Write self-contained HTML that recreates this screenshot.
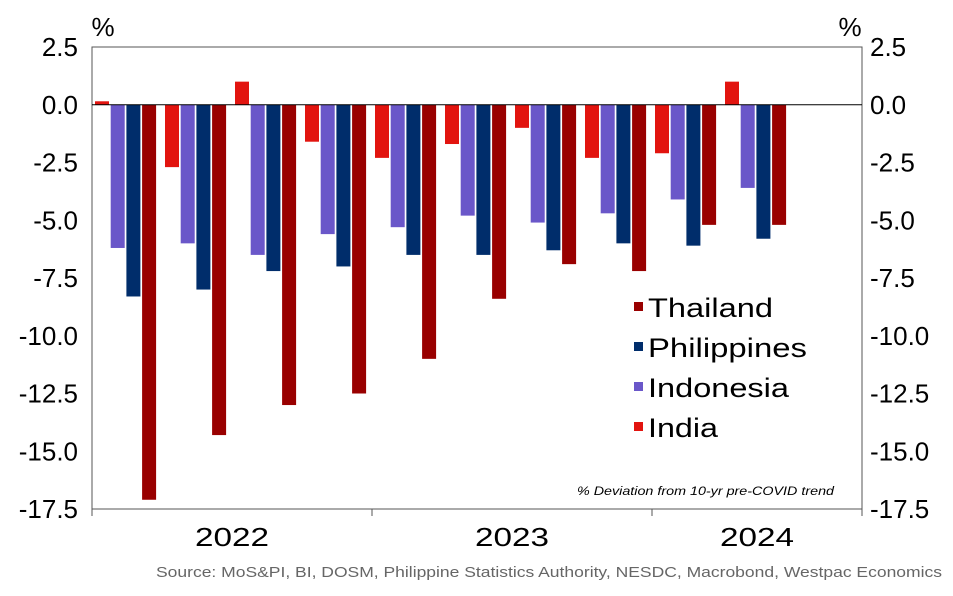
<!DOCTYPE html>
<html><head><meta charset="utf-8"><style>
body{margin:0;background:#fff;font-family:"Liberation Sans",sans-serif}
</style></head><body>
<svg width="953" height="591" xmlns="http://www.w3.org/2000/svg" id="chart">
</svg>
<script>
const quarters=["2022Q1","2022Q2","2022Q3","2022Q4","2023Q1","2023Q2","2023Q3","2023Q4","2024Q1","2024Q2"];
const india=[0.15,-2.7,1.0,-1.6,-2.3,-1.7,-1.0,-2.3,-2.1,1.0];
const indonesia=[-6.2,-6.0,-6.5,-5.6,-5.3,-4.8,-5.1,-4.7,-4.1,-3.6];
const philippines=[-8.3,-8.0,-7.2,-7.0,-6.5,-6.5,-6.3,-6.0,-6.1,-5.8];
const thailand=[-17.1,-14.3,-13.0,-12.5,-11.0,-8.4,-6.9,-7.2,-5.2,-5.2];
const yTicks=[2.5,0,-2.5,-5,-7.5,-10,-12.5,-15,-17.5];
const years=["2022","2023","2024"];
const yearSlots=[4,4,3];
const seriesNames=["Thailand","Philippines","Indonesia","India"];
const legendWidths=[125,159,141,70];

const svg=document.getElementById('chart');
const NS="http://www.w3.org/2000/svg";
const L=92,R=862,T=47,B=509,yMax=2.5,yMin=-17.5,nSlots=11;
const slotW=(R-L)/nSlots;
const y=v=>T+(yMax-v)/(yMax-yMin)*(B-T);
const xSlot=i=>L+i*slotW;
function el(tag,attrs,text){const e=document.createElementNS(NS,tag);for(const k in attrs)e.setAttribute(k,attrs[k]);if(text!==undefined)e.textContent=text;svg.appendChild(e);return e;}

let f=el('rect',{x:L,y:T,width:R-L,height:B-T,fill:'none',stroke:'#555','stroke-width':1});



yTicks.forEach(v=>{
  let t=el('text',{x:78,y:y(v)+9,'text-anchor':'end','font-size':26,fill:'#000'},v.toFixed(1));
  
  
  let t2=el('text',{x:870,y:y(v)+9,'text-anchor':'start','font-size':26,fill:'#000'},v.toFixed(1));
  
  
});
let p1=el('text',{x:103,y:36,'text-anchor':'middle','font-size':26},'%');


let p2=el('text',{x:850,y:36,'text-anchor':'middle','font-size':26},'%');



const series=[india,indonesia,philippines,thailand];
const colors=["#e2140f","#6a57c9","#002d6b","#990000"];
const names=["india","indonesia","philippines","thailand"];
const bw=14,off=3,step=15.7;
quarters.forEach((q,i)=>{
  series.forEach((s,j)=>{
    const v=s[i];const x0=xSlot(i)+off+j*step;
    const y1=Math.min(y(v),y(0)),h=Math.abs(y(v)-y(0));
    let b=el('rect',{x:x0,y:y1,width:bw,height:h,fill:colors[j]});
    
    
  });
});
let z=el('line',{x1:L,x2:R,y1:y(0),y2:y(0),stroke:'#000','stroke-width':1});



let s0=0;
years.forEach((yr,k)=>{
  const xa=xSlot(s0),xb=xSlot(s0+yearSlots[k]);
  let tk=el('line',{x1:xa,x2:xa,y1:B,y2:B+7,stroke:'#555'});
  
  
  let t=el('text',{x:(xa+xb)/2,y:546,'text-anchor':'middle','font-size':26,textLength:74,lengthAdjust:'spacingAndGlyphs'},yr);
  
  
  s0+=yearSlots[k];
});
let tkE=el('line',{x1:R,x2:R,y1:B,y2:B+7,stroke:'#555'});



const legColors=["#990000","#002d6b","#6a57c9","#e2140f"];
seriesNames.forEach((n,k)=>{
  const ly=308+k*40;
  let sq=el('rect',{x:634,y:ly-6,width:9,height:9,fill:legColors[k]});
  
  
  let t=el('text',{x:648,y:ly+9,'font-size':27,textLength:legendWidths[k],lengthAdjust:'spacingAndGlyphs'},n);
  
  
});

let an=el('text',{x:577,y:495,'font-size':11.5,'font-style':'italic',textLength:257,lengthAdjust:'spacingAndGlyphs'},'% Deviation from 10-yr pre-COVID trend');


let src=el('text',{x:156,y:577,'font-size':15,fill:'#666',textLength:786,lengthAdjust:'spacingAndGlyphs'},'Source: MoS&PI, BI, DOSM, Philippine Statistics Authority, NESDC, Macrobond, Westpac Economics');


</script>
</body></html>
